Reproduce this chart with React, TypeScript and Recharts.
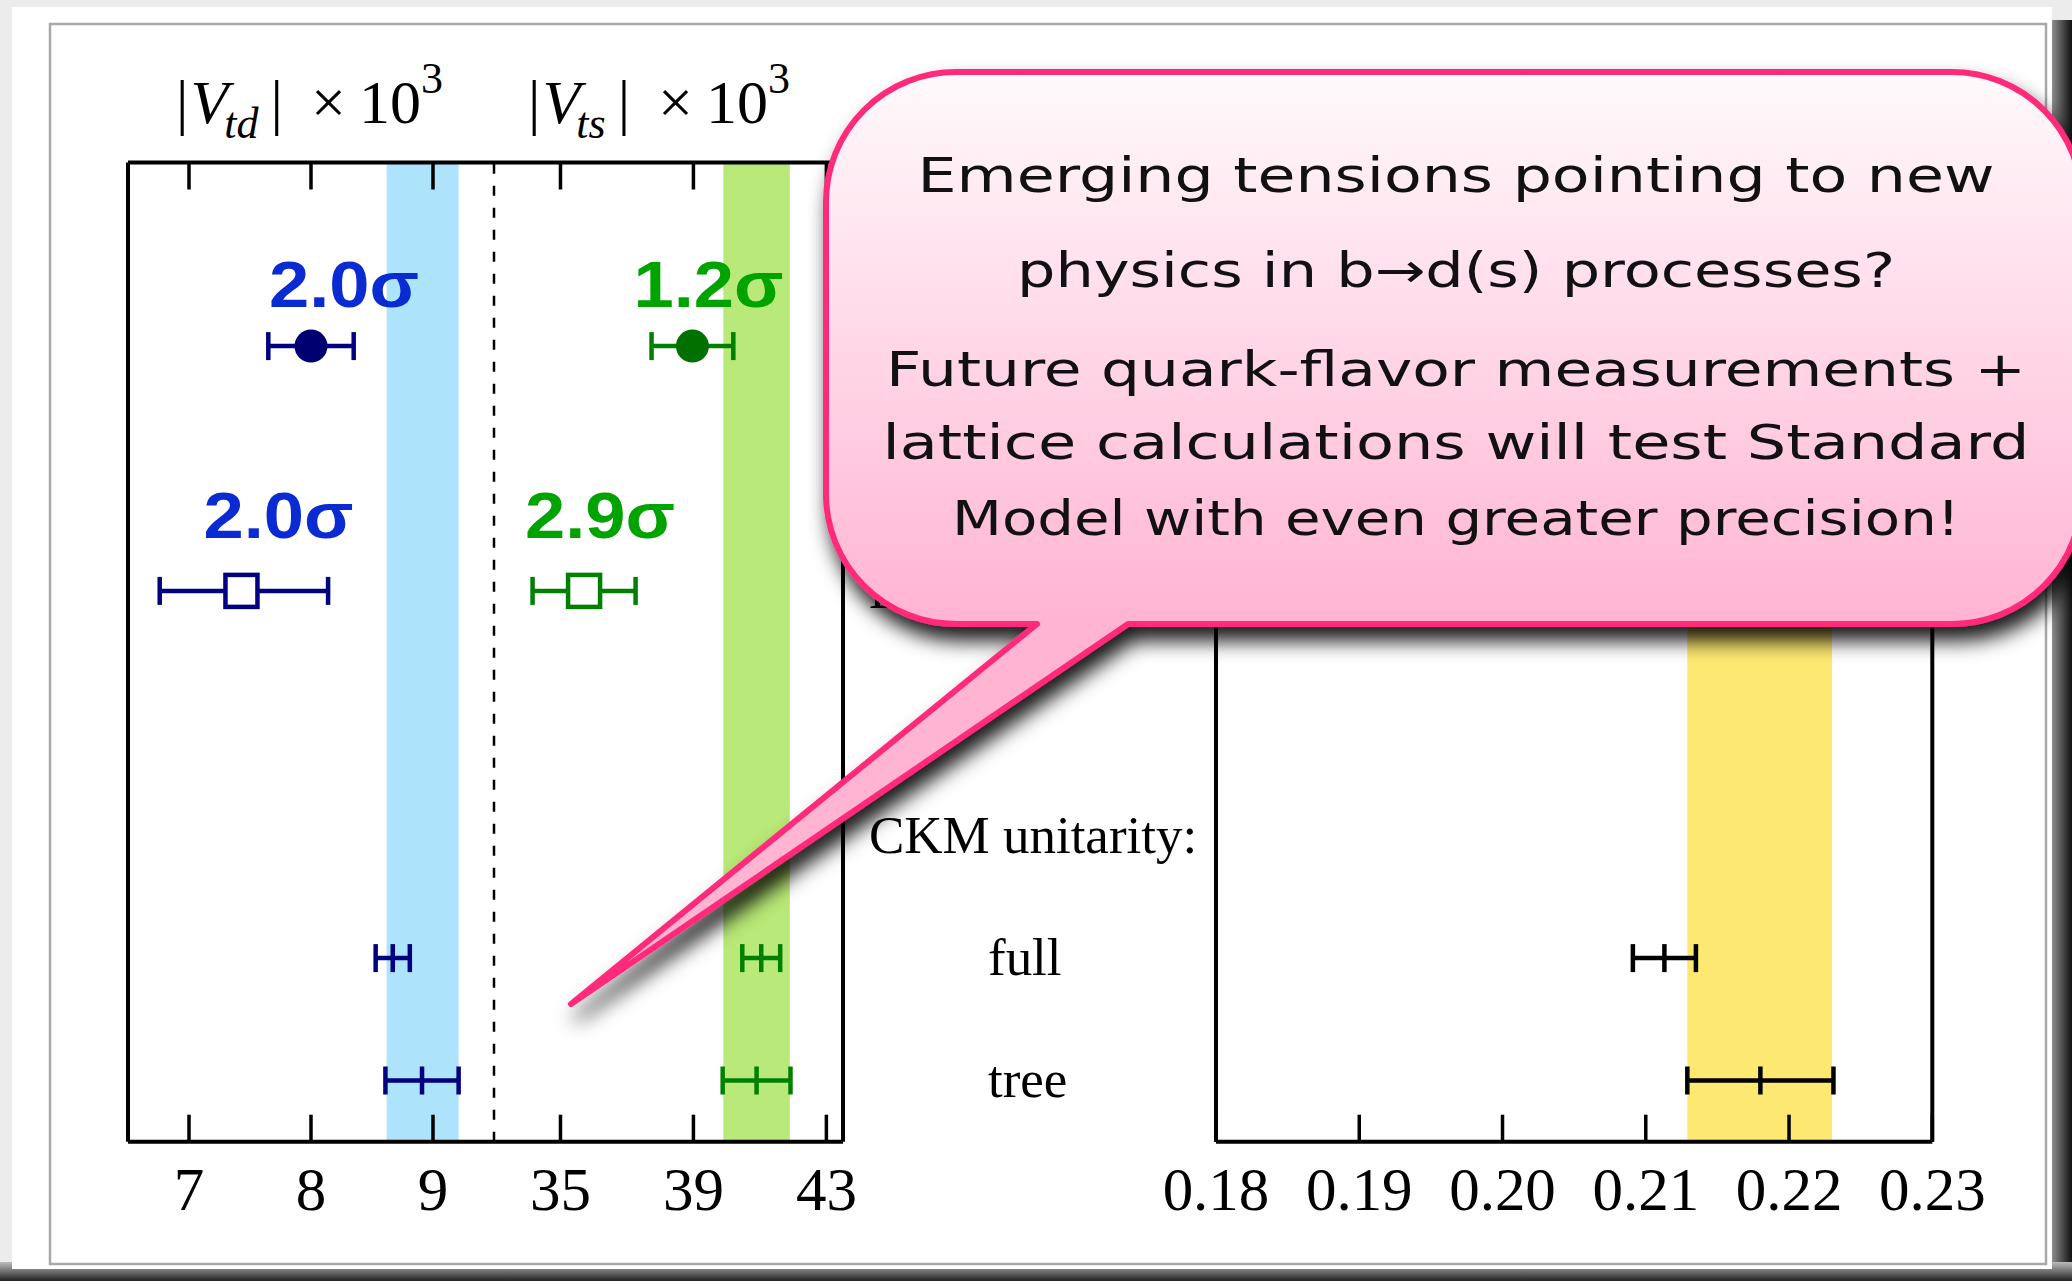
import React from "react";
import {
  ErrorBar,
  ReferenceArea,
  ReferenceLine,
  Scatter,
  ScatterChart,
  XAxis,
  YAxis,
} from "recharts";

// ---- data ----
// row index on the vertical axis: 0 = fit, 2 = prediction, 5 = CKM full, 6 = CKM tree
const pointRows = [0, 2, 5, 6];
const pointMarkers = ["circle", "square", "tick", "tick"];

const vtdValues = [8.0, 7.43, 8.67, 8.91];
const vtdErrors = [[0.35, 0.35], [0.67, 0.71], [0.14, 0.14], [0.3, 0.3]];
const vtdSigma = ["2.0σ", "2.0σ", "", ""];
const vtdBand = [8.62, 9.21];
const vtdTicks = [7, 8, 9];

const vtsValues = [38.97, 35.71, 41.04, 40.9];
const vtsErrors = [[1.23, 1.23], [1.55, 1.55], [0.57, 0.57], [1.02, 1.02]];
const vtsSigma = ["1.2σ", "2.9σ", "", ""];
const vtsBand = [39.9, 41.9];
const vtsTicks = [35, 39, 43];

const ckmRows = [5, 6];
const ckmMarkers = ["tick", "tick"];
const ckmValues = [0.2113, 0.218];
const ckmErrors = [[0.0022, 0.0022], [0.0051, 0.0051]];
const ckmBand = [0.2129, 0.223];
const ckmTicks = [0.18, 0.19, 0.2, 0.21, 0.22, 0.23];

const rowLabelRows = [2, 4, 5, 6];
const rowLabels = ["B mixing:", "CKM unitarity:", "full", "tree"];
const rowLabelIsSub = [false, false, true, true];

const calloutLines = [
  "Emerging tensions pointing to new",
  "physics in b→d(s) processes?",
  "Future quark-flavor measurements +",
  "lattice calculations will test Standard",
  "Model with even greater precision!",
];

// ---- layout ----
const W = 2072;
const H = 1281;
const PLOT_TOP = 162.5;
const PLOT_BOTTOM = 1141.7;
const X_AXIS_H = 100;
const TICK_LEN = 27;
const ROW_DOMAIN: [number, number] = [-1.5, 6.5];
// tick length expressed in row units so the marks can be drawn as reference segments
const TICK_ROWS = (TICK_LEN * (ROW_DOMAIN[1] - ROW_DOMAIN[0])) / (PLOT_BOTTOM - PLOT_TOP);
const SERIF = '"Liberation Serif", "Times New Roman", serif';
const SANS = '"Liberation Sans", Arial, sans-serif';

type Pt = { x: number; y: number; err: number[]; marker: string; sigma: string; i: number };

function buildPoints(vals: number[], errs: number[][], rows: number[], marks: string[], sig: string[] = []): Pt[] {
  return vals.map((v, i) => ({ x: v, y: rows[i], err: errs[i], marker: marks[i], sigma: sig[i] ?? "", i }));
}

const vtdData = buildPoints(vtdValues, vtdErrors, pointRows, pointMarkers, vtdSigma);
const vtsData = buildPoints(vtsValues, vtsErrors, pointRows, pointMarkers, vtsSigma);
const ckmData = buildPoints(ckmValues, ckmErrors, ckmRows, ckmMarkers);

function markerShape(stroke: string, dot: string, labelColor: string, labelOffsets: number[][]) {
  return (props: any) => {
    const { cx, cy, payload } = props;
    if (cx == null || cy == null) return <g />;
    const p = payload as Pt;
    let mark;
    if (p.marker === "circle") mark = <circle cx={cx} cy={cy} r={16.5} fill={dot} />;
    else if (p.marker === "square")
      mark = <rect x={cx - 16} y={cy - 16} width={32} height={32} fill="#fff" stroke={stroke} strokeWidth={4.5} />;
    else mark = <line x1={cx} x2={cx} y1={cy - 14} y2={cy + 14} stroke={stroke} strokeWidth={4.5} />;
    const off = labelOffsets[p.i];
    return (
      <g>
        {mark}
        {p.sigma && off ? (
          <text
            x={cx + off[0]}
            y={cy + off[1]}
            textAnchor="middle"
            fontFamily={SANS}
            fontWeight={700}
            fontSize={64}
            fill={labelColor}
            textLength={150}
            lengthAdjust="spacingAndGlyphs"
          >
            {p.sigma}
          </text>
        ) : null}
      </g>
    );
  };
}

function tickLabel(fmt: (v: number) => string) {
  return (props: any) => {
    const { x, y, payload } = props;
    return (
      <text x={x} y={y + 68} textAnchor="middle" fontFamily={SERIF} fontSize={61} fill="#000">
        {fmt(payload.value)}
      </text>
    );
  };
}

const rowLabelTick = (props: any) => {
  const { x, y, payload } = props;
  const k = rowLabelRows.indexOf(payload.value);
  if (k < 0) return <g />;
  return (
    <text x={x - (rowLabelIsSub[k] ? 228 : 347)} y={y + 17} fontFamily={SERIF} fontSize={53} fill="#000">
      {rowLabels[k]}
    </text>
  );
};

type PanelProps = {
  plotLeft: number;
  plotWidth: number;
  domain: [number, number];
  ticks: number[];
  fmt: (v: number) => string;
  data: Pt[];
  stroke: string;
  dot: string;
  labelColor: string;
  labelOffsets: number[][];
  band: number[];
  bandColor: string;
  edges: { x: number; dashed?: boolean }[];
  withRowLabels?: boolean;
};

function Panel(p: PanelProps) {
  const padL = 20;
  const padR = 80;
  const yW = p.withRowLabels ? 380 : 0;
  const chartW = padL + yW + p.plotWidth + padR;
  const [top, bottom] = ROW_DOMAIN;
  return (
    <div style={{ position: "absolute", left: p.plotLeft - padL - yW, top: 0 }}>
      <ScatterChart
        width={chartW}
        height={H}
        margin={{ top: PLOT_TOP, right: padR, bottom: H - PLOT_BOTTOM - X_AXIS_H, left: padL }}
      >
        <XAxis
          type="number"
          dataKey="x"
          domain={p.domain}
          ticks={p.ticks}
          interval={0}
          allowDataOverflow
          height={X_AXIS_H}
          tickSize={0}
          tickMargin={0}
          tickLine={false}
          axisLine={{ stroke: "#000", strokeWidth: 4 }}
          tick={tickLabel(p.fmt)}
        />
        <YAxis
          type="number"
          dataKey="y"
          domain={ROW_DOMAIN}
          reversed
          allowDataOverflow
          hide={!p.withRowLabels}
          width={yW}
          ticks={rowLabelRows}
          interval={0}
          tickSize={0}
          tickMargin={0}
          axisLine={false}
          tickLine={false}
          tick={rowLabelTick}
        />
        <ReferenceArea x1={p.band[0]} x2={p.band[1]} fill={p.bandColor} fillOpacity={1} stroke="none" />
        <ReferenceLine y={top} stroke="#000" strokeWidth={4} ifOverflow="visible" />
        {p.ticks.map((t) => (
          <ReferenceLine
            key={`b${t}`}
            segment={[{ x: t, y: bottom }, { x: t, y: bottom - TICK_ROWS }]}
            stroke="#000"
            strokeWidth={3.5}
            ifOverflow="visible"
          />
        ))}
        {p.ticks.map((t) => (
          <ReferenceLine
            key={`t${t}`}
            segment={[{ x: t, y: top }, { x: t, y: top + TICK_ROWS }]}
            stroke="#000"
            strokeWidth={3.5}
            ifOverflow="visible"
          />
        ))}
        {p.edges.map((e) => (
          <ReferenceLine
            key={e.x}
            x={e.x}
            stroke="#000"
            strokeWidth={e.dashed ? 2.5 : 4}
            strokeDasharray={e.dashed ? "10 12" : undefined}
            ifOverflow="visible"
          />
        ))}
        <Scatter
          data={p.data}
          fill={p.dot}
          shape={markerShape(p.stroke, p.dot, p.labelColor, p.labelOffsets)}
          isAnimationActive={false}
        >
          <ErrorBar
            dataKey="err"
            direction="x"
            width={14}
            strokeWidth={4.5}
            stroke={p.stroke}
            isAnimationActive={false}
          />
        </Scatter>
      </ScatterChart>
    </div>
  );
}

function Title({ x, sub }: { x: number; sub: string }) {
  return (
    <text x={x} y={123} fontFamily={SERIF} fontSize={62} fill="#000">
      <tspan>|</tspan>
      <tspan fontStyle="italic" dx={2}>V</tspan>
      <tspan fontStyle="italic" fontSize={44} dy={15} dx={-4}>{sub}</tspan>
      <tspan dy={-15} dx={12}>|</tspan>
      <tspan dx={28}>×</tspan>
      <tspan dx={13}>10</tspan>
      <tspan fontSize={44} dy={-30}>3</tspan>
    </text>
  );
}

// speech bubble geometry
const BL = 826;
const BT = 72;
const BR = 2082;
const BB = 624;
const BRAD = 130;
const TAIL_L = 1037;
const TAIL_R = 1128;
const TIP_X = 571;
const TIP_Y = 1004;
const bubblePath =
  `M ${BL + BRAD} ${BT} H ${BR - BRAD} A ${BRAD} ${BRAD} 0 0 1 ${BR} ${BT + BRAD} ` +
  `V ${BB - BRAD} A ${BRAD} ${BRAD} 0 0 1 ${BR - BRAD} ${BB} H ${TAIL_R} L ${TIP_X} ${TIP_Y} ` +
  `L ${TAIL_L} ${BB} H ${BL + BRAD} A ${BRAD} ${BRAD} 0 0 1 ${BL} ${BB - BRAD} ` +
  `V ${BT + BRAD} A ${BRAD} ${BRAD} 0 0 1 ${BL + BRAD} ${BT} Z`;
const lineBaselines = [192, 287, 386, 459, 535];
const lineWidths = [1077, 878, 1140, 1147, 1008];

export default function App() {
  return (
    <div style={{ position: "absolute", left: 0, top: 0, width: W, height: H, overflow: "hidden", background: "#fff" }}>
      {/* paper background */}
      <svg width={W} height={H} style={{ position: "absolute", left: 0, top: 0 }}>
        <defs>
          <linearGradient id="rightShade" x1="0" y1="0" x2="1" y2="0">
            <stop offset="0" stopColor="#d8d8d8" />
            <stop offset="1" stopColor="#111" />
          </linearGradient>
          <linearGradient id="bottomShade" x1="0" y1="0" x2="0" y2="1">
            <stop offset="0" stopColor="#bbb" />
            <stop offset="1" stopColor="#222" />
          </linearGradient>
        </defs>
        <rect x={0} y={0} width={W} height={H} fill="#ececec" />
        <rect x={2040} y={20} width={32} height={H} fill="url(#rightShade)" />
        <rect x={0} y={1262} width={W} height={19} fill="url(#bottomShade)" />
        <rect x={12} y={7} width={2040} height={1262} fill="#fff" />
        <rect x={50} y={24} width={1996} height={1240} fill="none" stroke="#a8a8a8" strokeWidth={2.5} />
      </svg>

      <Panel
        plotLeft={128}
        plotWidth={366}
        domain={[6.5, 9.5]}
        ticks={vtdTicks}
        fmt={(v) => String(v)}
        data={vtdData}
        stroke="#000080"
        dot="#000070"
        labelColor="#0a2ad2"
        labelOffsets={[[33, -39], [37, -53]]}
        band={vtdBand}
        bandColor="#aee3fc"
        edges={[{ x: 6.5 }, { x: 9.5, dashed: true }]}
      />
      <Panel
        plotLeft={494}
        plotWidth={349}
        domain={[33, 43.5]}
        ticks={vtsTicks}
        fmt={(v) => String(v)}
        data={vtsData}
        stroke="#008000"
        dot="#007000"
        labelColor="#00a300"
        labelOffsets={[[16, -39], [16, -53]]}
        band={vtsBand}
        bandColor="#b9e978"
        edges={[{ x: 43.5 }]}
      />
      <Panel
        plotLeft={1215.7}
        plotWidth={716.3}
        domain={[0.18, 0.23]}
        ticks={ckmTicks}
        fmt={(v) => v.toFixed(2)}
        data={ckmData}
        stroke="#000"
        dot="#000"
        labelColor="#000"
        labelOffsets={[]}
        band={ckmBand}
        bandColor="#fde872"
        edges={[{ x: 0.18 }, { x: 0.23 }]}
        withRowLabels
      />

      {/* titles and callout */}
      <svg width={W} height={H} style={{ position: "absolute", left: 0, top: 0, pointerEvents: "none" }}>
        <defs>
          <linearGradient id="bubbleFill" gradientUnits="userSpaceOnUse" x1="0" y1={BT} x2="0" y2={BB}>
            <stop offset="0" stopColor="#fffafc" />
            <stop offset="1" stopColor="#ffb4d2" />
          </linearGradient>
          <filter id="bubbleShadow" x="-10%" y="-10%" width="130%" height="160%">
            <feDropShadow dx={6} dy={14} stdDeviation={10} floodColor="#000" floodOpacity={0.9} />
          </filter>
        </defs>
        <Title x={176} sub="td" />
        <Title x={528} sub="ts" />
        <path
          d={bubblePath}
          fill="url(#bubbleFill)"
          stroke="#ff2a7a"
          strokeWidth={6}
          strokeLinejoin="round"
          filter="url(#bubbleShadow)"
        />
        {calloutLines.map((t, i) => (
          <text
            key={t}
            x={1456}
            y={lineBaselines[i]}
            textAnchor="middle"
            fontFamily='"DejaVu Sans", sans-serif'
            fontSize={48}
            fill="#111"
            textLength={lineWidths[i]}
            lengthAdjust="spacingAndGlyphs"
          >
            {t}
          </text>
        ))}
      </svg>
    </div>
  );
}
